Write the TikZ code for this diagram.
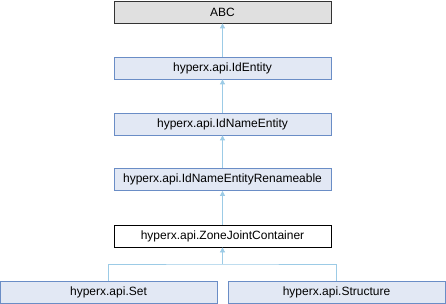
\documentclass[tikz,border=0pt]{standalone}
\usepackage{fontspec}
\setmainfont{Liberation Sans}
\usetikzlibrary{arrows.meta}
\definecolor{boxfill}{HTML}{E2E8F4}
\definecolor{boxline}{HTML}{6A8DC6}
\definecolor{edgecol}{HTML}{9CCBE6}
\definecolor{abcfill}{HTML}{E0E0E0}
\begin{document}
\begin{tikzpicture}[x=1pt,y=-1pt,
  base/.style={line width=0.8pt,minimum width=217pt,minimum height=22pt,inner sep=0pt,font=\fontsize{12}{14}\selectfont},
  cls/.style={base,draw=boxline,fill=boxfill},
  ext/.style={base,draw=black!80,fill=abcfill},
  cur/.style={base,draw=black,fill=white},
  inh/.style={draw=edgecol,line width=0.8pt,-{Triangle[length=5pt,width=5pt,fill=edgecol]}}]
\useasboundingbox (0,0) rectangle (446,304);
\node[ext] (abc) at (222.5,12) {ABC};
\node[cls] (ide) at (222.5,68) {hyperx.api.IdEntity};
\node[cls] (idn) at (222.5,124) {hyperx.api.IdNameEntity};
\node[cls] (idr) at (222.5,179.5) {hyperx.api.IdNameEntityRenameable};
\node[cur] (zjc) at (222.5,236) {hyperx.api.ZoneJointContainer};
\node[cls] (set) at (108.5,292) {hyperx.api.Set};
\node[cls] (str) at (336.5,292) {hyperx.api.Structure};
\coordinate (jn) at (222.5,264);
\draw[inh] (ide.north) -- (abc.south);
\draw[inh] (idn.north) -- (ide.south);
\draw[inh] (idr.north) -- (idn.south);
\draw[inh] (zjc.north) -- (idr.south);
\draw[draw=edgecol,line width=0.8pt] (set.north) |- (jn) -| (str.north);
\draw[inh] (jn) -- (zjc.south);
\end{tikzpicture}
\end{document}
